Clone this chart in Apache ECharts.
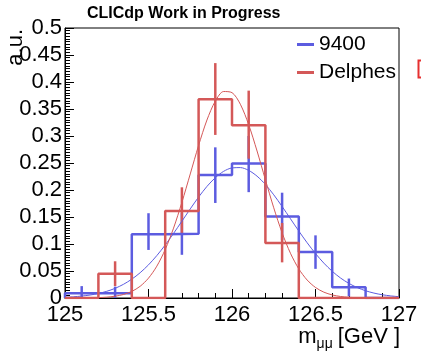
<!DOCTYPE html>
<html>
<head>
<meta charset="utf-8">
<script src="https://cdn.jsdelivr.net/npm/echarts@6/dist/echarts.min.js"></script>
<style>
  html, body { margin: 0; padding: 0; background: #fff; }
  #chart { width: 421px; height: 352px; }
</style>
</head>
<body>
<div id="chart"></div>
<script>
// bin edges of both histograms (GeV)
const binEdges = [125, 125.2, 125.4, 125.6, 125.8, 126, 126.2, 126.4, 126.6, 126.8, 127];
// bin contents, a.u.
const blueBins = [0.009, 0.009, 0.118, 0.119, 0.228, 0.249, 0.151, 0.085, 0.02, 0];
const redBins = [0, 0.045, 0, 0.161, 0.368, 0.32, 0.102, 0, 0, 0];
// error bar ends (null = no bar)
const blueErrLow = [0, 0, 0.089, 0.08, 0.176, 0.196, 0.107, 0.054, 0.003, null];
const blueErrHigh = [0.022, 0.021, 0.157, 0.158, 0.279, 0.30, 0.195, 0.116, 0.036, null];
const redErrLow = [null, 0.022, null, 0.12, 0.302, 0.258, 0.066, null, null, null];
const redErrHigh = [null, 0.068, null, 0.205, 0.435, 0.384, 0.139, null, null, null];
// fitted curves
const fitX = [125, 125.05, 125.1, 125.15, 125.2, 125.25, 125.3, 125.35, 125.4, 125.45,
  125.5, 125.55, 125.6, 125.65, 125.7, 125.75, 125.8, 125.85, 125.9, 125.95,
  126, 126.05, 126.1, 126.15, 126.2, 126.25, 126.3, 126.35, 126.4, 126.45,
  126.5, 126.55, 126.6, 126.65, 126.7, 126.75, 126.8, 126.85, 126.9, 126.95, 127];
const blueFit = [0.0014, 0.0022, 0.0036, 0.0055, 0.0084, 0.0124, 0.0179, 0.0253, 0.0349, 0.0468,
  0.0614, 0.0786, 0.0981, 0.1196, 0.1422, 0.1650, 0.1869, 0.2066, 0.2228, 0.2346,
  0.2409, 0.2415, 0.2363, 0.2256, 0.2102, 0.1911, 0.1695, 0.1468, 0.1240, 0.1023,
  0.0823, 0.0646, 0.0495, 0.0370, 0.0270, 0.0193, 0.0134, 0.0091, 0.0060, 0.0039, 0.0024];
const redFit = [0, 0, 0.0001, 0.0003, 0.0007, 0.0016, 0.0033, 0.0065, 0.0122, 0.0217,
  0.0368, 0.0590, 0.0897, 0.1294, 0.1771, 0.2297, 0.2825, 0.3296, 0.3645, 0.3824,
  0.3803, 0.3588, 0.3209, 0.2722, 0.2190, 0.1670, 0.1208, 0.0829, 0.0539, 0.0333,
  0.0195, 0.0108, 0.0057, 0.0028, 0.0013, 0.0006, 0.0003, 0.0001, 0, 0, 0];

const BLUE = '#5c5ce0';
const RED = '#d45858';
const FONT = 'Liberation Sans, Arial, sans-serif';

function histData(vals) {
  const d = [[binEdges[0], 0]];
  vals.forEach((v, i) => d.push([binEdges[i], v]));
  d.push([binEdges[binEdges.length - 1], vals[vals.length - 1]]);
  d.push([binEdges[binEdges.length - 1], 0]);
  return d;
}

function errData(lo, hi) {
  const d = [];
  lo.forEach((l, i) => {
    if (l === null) return;
    d.push([(binEdges[i] + binEdges[i + 1]) / 2, l, hi[i]]);
  });
  return d;
}

function errSeries(name, lo, hi, color) {
  return {
    name: name,
    type: 'custom',
    clip: true,
    data: errData(lo, hi),
    encode: { x: 0, y: [1, 2] },
    renderItem: (params, api) => {
      const a = api.coord([api.value(0), api.value(1)]);
      const b = api.coord([api.value(0), api.value(2)]);
      return {
        type: 'line',
        shape: { x1: a[0], y1: a[1], x2: b[0], y2: b[1] },
        style: { stroke: color, lineWidth: 2.5 }
      };
    }
  };
}

const chart = echarts.init(document.getElementById('chart'), null, { renderer: 'canvas' });
chart.setOption({
  animation: false,
  textStyle: { fontFamily: FONT },
  title: {
    text: 'CLICdp Work in Progress',
    left: 82, top: 1,
    textStyle: { fontSize: 16, fontWeight: 'bold', color: '#000', fontFamily: FONT }
  },
  legend: {
    orient: 'vertical',
    left: 292, top: 29,
    itemWidth: 17, itemHeight: 3, itemGap: 7,
    icon: 'rect',
    data: ['9400', 'Delphes'],
    textStyle: { fontSize: 21, color: '#000', fontFamily: FONT }
  },
  grid: {
    left: 65, right: 22, top: 28, bottom: 54,
    show: true, borderColor: '#000', borderWidth: 1, backgroundColor: 'transparent'
  },
  xAxis: {
    type: 'value', min: 125, max: 127, interval: 0.5,
    axisLine: { lineStyle: { color: '#000', width: 1 } },
    axisTick: { inside: true, length: 9, lineStyle: { color: '#000' } },
    minorTick: { show: true, splitNumber: 5, length: 5, lineStyle: { color: '#000' } },
    splitLine: { show: false },
    axisLabel: { fontSize: 22, color: '#000', margin: 6, fontFamily: FONT, showMaxLabel: true, showMinLabel: true }
  },
  yAxis: {
    type: 'value', min: 0, max: 0.5, interval: 0.05,
    axisLine: { show: true, lineStyle: { color: '#000', width: 1 } },
    axisTick: { show: true, inside: true, length: 9, lineStyle: { color: '#000' } },
    minorTick: { show: true, splitNumber: 10, length: 5, lineStyle: { color: '#000' } },
    splitLine: { show: false },
    axisLabel: { fontSize: 22, color: '#000', margin: 3, fontFamily: FONT }
  },
  graphic: [
    {
      type: 'text', x: 16, y: 29, rotation: Math.PI / 2,
      style: { text: 'a.u.', fontSize: 22, fontFamily: FONT, fill: '#000', align: 'right', verticalAlign: 'middle' }
    },
    {
      type: 'text', right: 21, top: 326,
      style: {
        text: '{m|m}{s|μμ}{g|[GeV}{b|]}',
        fill: '#000', fontFamily: FONT,
        rich: {
          m: { fontSize: 22, fontFamily: FONT, verticalAlign: 'bottom' },
          s: { fontSize: 14, fontFamily: FONT, verticalAlign: 'bottom', padding: [0, 5, -3, 0] },
          g: { fontSize: 22, fontFamily: FONT, verticalAlign: 'bottom' },
          b: { fontSize: 22, fontFamily: FONT, verticalAlign: 'bottom', padding: [0, 0, 0, 6] }
        }
      }
    },
    {
      type: 'rect', shape: { x: 418.5, y: 60.5, width: 20, height: 17 },
      style: { fill: 'none', stroke: '#e63030', lineWidth: 2 }
    }
  ],
  series: [
    {
      name: '9400', type: 'line', step: 'end', data: histData(blueBins),
      symbol: 'none', lineStyle: { color: BLUE, width: 2.5 }, itemStyle: { color: BLUE }
    },
    errSeries('blueErr', blueErrLow, blueErrHigh, BLUE),
    {
      name: 'blueFit', type: 'line', smooth: 0.3, symbol: 'none',
      data: fitX.map((x, i) => [x, blueFit[i]]),
      lineStyle: { color: BLUE, width: 1 }
    },
    {
      name: 'Delphes', type: 'line', step: 'end', data: histData(redBins),
      symbol: 'none', lineStyle: { color: RED, width: 2.5 }, itemStyle: { color: RED }
    },
    errSeries('redErr', redErrLow, redErrHigh, RED),
    {
      name: 'redFit', type: 'line', smooth: 0.3, symbol: 'none',
      data: fitX.map((x, i) => [x, redFit[i]]),
      lineStyle: { color: RED, width: 1 }
    }
  ]
});
</script>
</body>
</html>
